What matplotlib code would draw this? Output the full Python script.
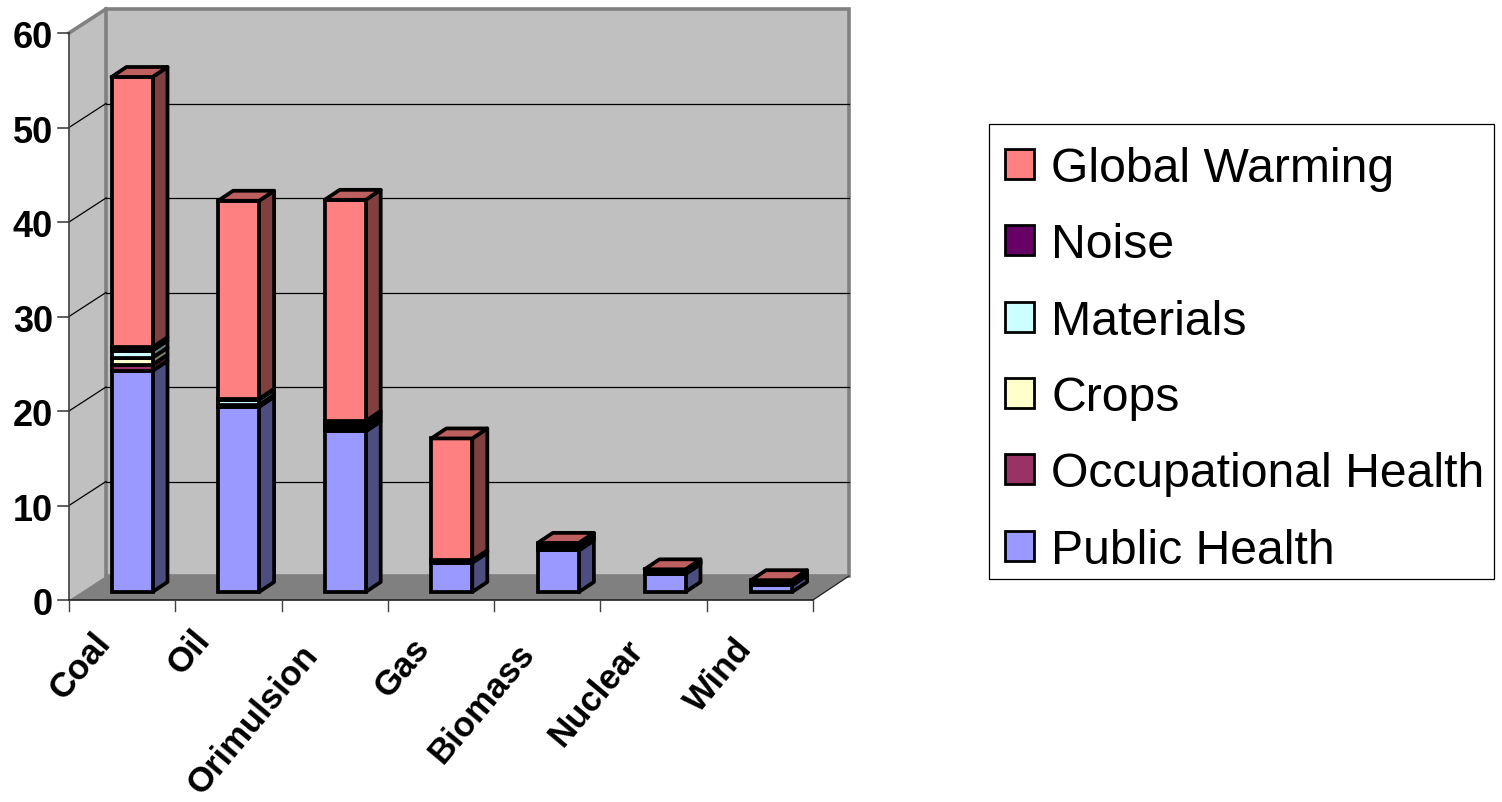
"""Stacked external cost columns per fuel, drawn with an oblique 3D look."""

import matplotlib
matplotlib.use("Agg")
import numpy as np
import matplotlib.pyplot as plt
from matplotlib.patches import Polygon, Rectangle

plt.rcParams['font.family'] = ['Liberation Sans', 'DejaVu Sans']

categories = ["Coal", "Oil", "Orimulsion", "Gas", "Biomass", "Nuclear", "Wind"]
public_health = [23.4, 19.6, 17.0, 3.1, 4.4, 1.9, 0.7]
occupational_health = [0.65, 0.1, 0.3, 0.1, 0.2, 0.1, 0.05]
crops = [0.75, 0.1, 0.3, 0.05, 0.2, 0.05, 0.05]
materials = [0.75, 0.55, 0.3, 0.05, 0.2, 0.1, 0.05]
noise = [0.35, 0.1, 0.2, 0.05, 0.1, 0.1, 0.2]
global_warming = [28.6, 20.95, 23.4, 12.9, 0.1, 0.15, 0.2]
y_ticks = [0, 10, 20, 30, 40, 50, 60]

series = [
    ("Public Health", public_health, "#9999FF", "#4D4D80"),
    ("Occupational Health", occupational_health, "#993366", "#4D1A33"),
    ("Crops", crops, "#FFFFCC", "#808066"),
    ("Materials", materials, "#CCFFFF", "#668080"),
    ("Noise", noise, "#660066", "#330033"),
    ("Global Warming", global_warming, "#FF8080", "#804040"),
]
TOP_COLOR = "#BF6060"

# pixel layout of the figure
W, H = 1502, 803
BAR_X0, BAR_STEP = 132, 106.6
BASE_Y, UNIT = 593, 9.45
BAR_W = 41
BAR_DX, BAR_DY = 15, 10
FRONT_L, FRONT_R, FRONT_Y = 69, 813, 601
BACK_L, BACK_R, BACK_Y = 106, 849, 577
EDGE = 2.7

# small per-label shifts of the rotated category names
label_dx = [-24, -31, -29, -24, -25, -23, -20]
label_dy = [1, -2, 13, 6, 11, 8, 7]


def fx(px):
    return (px - BAR_X0) / BAR_STEP


def fy(py):
    return (BASE_Y - py) / UNIT


def poly(points, **kw):
    ax.add_patch(Polygon([(fx(a), fy(b)) for a, b in points], closed=True, **kw))


fig = plt.figure(figsize=(W / 100, H / 100), dpi=100)
ax = fig.add_axes([0, 0, 1, 1])
ax.set_xlim(fx(0), fx(W))
ax.set_ylim(fy(H), fy(0))
ax.axis("off")

# walls and floor
grey = "#C0C0C0"
top_back = BACK_Y - 60 * UNIT
top_front = FRONT_Y - 60 * UNIT
poly([(FRONT_L, top_front), (BACK_L, top_back), (BACK_L, BACK_Y), (FRONT_L, FRONT_Y)],
     facecolor=grey, edgecolor="none", zorder=1)
poly([(BACK_L, top_back), (BACK_R, top_back), (BACK_R, BACK_Y), (BACK_L, BACK_Y)],
     facecolor=grey, edgecolor="#808080", linewidth=2.6, zorder=1)
ax.plot([fx(FRONT_L), fx(BACK_L)], [fy(top_front), fy(top_back)], color="#808080", lw=2.6, zorder=2)
poly([(FRONT_L, FRONT_Y), (BACK_L, BACK_Y), (BACK_R, BACK_Y), (FRONT_R, FRONT_Y)],
     facecolor="#808080", edgecolor="none", zorder=2)

# gridlines run along the back wall and down the side wall
for v in y_ticks:
    back = BACK_Y - v * UNIT
    front = FRONT_Y - v * UNIT
    if 0 < v < 60:
        ax.plot([fx(BACK_L), fx(BACK_R)], [fy(back), fy(back)], color="black", lw=0.9, zorder=2)
        ax.plot([fx(FRONT_L), fx(BACK_L)], [fy(front), fy(back)], color="black", lw=0.9, zorder=2)
    ax.plot([fx(FRONT_L - 11), fx(FRONT_L)], [fy(front), fy(front)], color="#333333", lw=1.1, zorder=3)
    ax.text(fx(53), fy(front + 1), str(v), ha="right", va="center_baseline",
            fontsize=26, fontweight="bold", color="black")

ax.plot([fx(FRONT_L), fx(FRONT_L)], [fy(top_front), fy(FRONT_Y)], color="#404040", lw=1.2, zorder=3)
ax.plot([fx(FRONT_L), fx(FRONT_R)], [fy(FRONT_Y), fy(FRONT_Y)], color="#202020", lw=1.2, zorder=3)
ax.plot([fx(FRONT_R), fx(BACK_R)], [fy(FRONT_Y), fy(BACK_Y)], color="#202020", lw=0.9, zorder=3)

tick_step = (FRONT_R - FRONT_L) / len(categories)
for k in range(len(categories) + 1):
    tx = fx(FRONT_L + k * tick_step)
    ax.plot([tx, tx], [fy(FRONT_Y), fy(FRONT_Y + 11)], color="#404040", lw=1.0, zorder=3)

# columns: stacked front faces, side faces per segment, one cap on top
xs = np.arange(len(categories))
half = BAR_W / 2 / BAR_STEP
dx = BAR_DX / BAR_STEP
dy = BAR_DY / UNIT
bottom = np.zeros(len(categories))
for name, values, front_color, side_color in series:
    values = np.array(values)
    for x, b, v in zip(xs, bottom, values):
        r = x + half
        ax.add_patch(Polygon([(r, b), (r + dx, b + dy), (r + dx, b + v + dy), (r, b + v)],
                             facecolor=side_color, edgecolor="black", linewidth=EDGE,
                             joinstyle="round", zorder=4))
    ax.bar(xs, values, width=2 * half, bottom=bottom, color=front_color,
           edgecolor="black", linewidth=EDGE, zorder=5)
    bottom = bottom + values

for x, t in zip(xs, bottom):
    ax.add_patch(Polygon([(x - half, t), (x - half + dx, t + dy), (x + half + dx, t + dy), (x + half, t)],
                         facecolor=TOP_COLOR, edgecolor="black", linewidth=EDGE,
                         joinstyle="round", zorder=6))

# rotated category labels
for k, name in enumerate(categories):
    ax.text(fx(FRONT_L + (k + 0.5) * tick_step - 6 + label_dx[k]), fy(626 + label_dy[k]), name,
            rotation=50, rotation_mode="anchor", ha="right", va="top",
            fontsize=25, fontweight="bold", color="black", zorder=7)

# legend box
ax.add_patch(Rectangle((fx(989), fy(580)), fx(1494) - fx(989), fy(125) - fy(580),
                       facecolor="white", edgecolor="black", linewidth=0.9, zorder=7))
legend_y = [547, 470, 394, 318, 241, 165]
for (name, _, front_color, _), ly in zip(series, legend_y):
    ax.add_patch(Rectangle((fx(1004.5), fy(ly + 15)), fx(1034) - fx(1004.5), fy(ly - 15) - fy(ly + 15),
                           facecolor=front_color, edgecolor="black", linewidth=2.0, zorder=8))
    ax.text(fx(1051), fy(ly + 17.5), name, ha="left", va="baseline", fontsize=34.7, color="black", zorder=8)

fig.savefig("out.png", dpi=100, facecolor="white")
plt.close(fig)
